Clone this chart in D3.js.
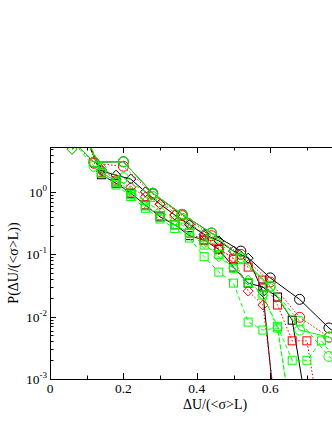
<!DOCTYPE html>
<html><head><meta charset="utf-8">
<script src="https://cdn.jsdelivr.net/npm/d3@7"></script>
<style>html,body{margin:0;padding:0;background:#fff;overflow:hidden}
text{font-family:"Liberation Serif","Times New Roman",Times,serif;}</style>
</head><body>
<svg id="c" width="332" height="430"></svg>
<script>
// ---- data ----
const xCircle  = [0.04,0.12,0.20,0.28,0.36,0.44,0.52,0.60,0.68,0.76,0.84];
const xDiamond = [0.06,0.10,0.14,0.18,0.22,0.26,0.30,0.34,0.38,0.42,0.46,0.50,0.54,0.58,0.62,0.66];
const xSquare  = [0.10,0.14,0.18,0.22,0.26,0.30,0.34,0.38,0.42,0.46,0.50,0.54,0.58,0.62,0.66,0.70,0.74,0.78];

const blackCircle  = [9,3.03,3.07,0.96,0.44,0.22,0.113,0.042,0.019,0.0066,0.003];
const redCircle    = [9,2.9,2.6,0.93,0.42,0.20,0.10,0.036,0.0098,0.0047,0.002];
const greenCircle  = [9,3.03,3.07,0.96,0.44,0.22,0.089,0.031,0.0061,0.0047,0.003];
const greenCircle2 = [9,2.6,1.7,0.85,0.38,0.18,0.085,0.030,0.0085,0.0023,0.001];

const blackDiamond = [4.9,7,2.2,1.87,1.62,1.01,0.64,0.43,0.30,0.21,0.165,0.113,0.087,0.025,1.1e-4];
const redDiamond   = [4.9,7,2.3,1.6,1.2,0.84,0.64,0.43,0.32,0.197,0.12,0.087,0.0258,0.0154,2e-4];
const greenDiamond = [4.9,7,2.5,1.5,1.05,0.7,0.5,0.35,0.25,0.15,0.092,0.06,0.0387,0.0222,0.0066,2e-4];

const blackSquare  = [7,1.9,1.39,0.96,0.62,0.40,0.30,0.20,0.17,0.12,0.0626,0.0346,0.03,0.0207,0.0088,3.2e-4];
const redSquare    = [7,2.07,1.5,0.96,0.62,0.42,0.30,0.22,0.17,0.126,0.085,0.0626,0.0387,0.0154,0.0041,0.0041,1.5e-4];
const greenSquare  = [7,2.0,1.3,0.85,0.55,0.37,0.26,0.183,0.092,0.052,0.0346,0.0082,0.0061,0.0066,2e-4];
const greenSquare2 = [7,2.1,1.45,0.92,0.6,0.42,0.3,0.22,0.141,0.1,0.06,0.035,0.0222,0.007,0.002,0.002,0.0041,0.002];

const xTickValues = [0,0.2,0.4,0.6];
const xTickLabels = ["0","0.2","0.4","0.6"];
const yTickValues = [1e-3,1e-2,1e-1,1];
const yTickExps   = ["-3","-2","-1","0"];

// ---- series table ----
const RED="#ff0000", GREEN="#00ff00", BLACK="#000000";
const series = [
  {x:xCircle,  y:blackCircle,  color:BLACK, dash:null,   sym:"circle"},
  {x:xDiamond, y:blackDiamond, color:BLACK, dash:null,   sym:"diamond"},
  {x:xSquare,  y:blackSquare,  color:BLACK, dash:null,   sym:"square"},
  {x:xCircle,  y:redCircle,    color:RED, dash:"1.5,2", sym:"circle"},
  {x:xDiamond, y:redDiamond,   color:RED, dash:"1.5,2", sym:"diamond"},
  {x:xSquare,  y:redSquare,    color:RED, dash:"1.5,2", sym:"square"},
  {x:xCircle,  y:greenCircle2, color:GREEN, dash:"4,3", sym:"circle"},
  {x:xDiamond, y:greenDiamond, color:GREEN, dash:"4,3", sym:"diamond"},
  {x:xSquare,  y:greenSquare,  color:GREEN, dash:"4,3", sym:"square"},
  {x:xSquare,  y:greenSquare2, color:GREEN, dash:"4,3", sym:"square"},
  {x:xCircle,  y:greenCircle,  color:GREEN, dash:null,   sym:"circle"}
];

// ---- layout ----
const L=50, T=147, B=379, R=380.3;
const svg = d3.select("#c");
const xS = d3.scaleLinear().domain([0,0.9]).range([L,R]);
const yS = d3.scaleLog().domain([1e-3,5.3]).range([B,T]);

svg.append("defs").append("clipPath").attr("id","clip")
  .append("rect").attr("x",L).attr("y",T).attr("width",R-L).attr("height",B-T);

const plot = svg.append("g").attr("clip-path","url(#clip)");
const line = d3.line().x(d=>xS(d[0])).y(d=>yS(d[1]));

series.forEach(s=>{
  const pts = s.y.map((v,i)=>[s.x[i],v]);
  plot.append("path").attr("d",line(pts)).attr("fill","none")
    .attr("stroke",s.color).attr("stroke-width",1)
    .attr("stroke-dasharray",s.dash);
  const g = plot.append("g").attr("fill","none").attr("stroke",s.color).attr("stroke-width",1);
  pts.forEach(p=>{
    const cx=xS(p[0]), cy=yS(p[1]);
    if(s.sym==="circle") g.append("circle").attr("cx",cx).attr("cy",cy).attr("r",5);
    else if(s.sym==="square") g.append("rect").attr("x",cx-4).attr("y",cy-4).attr("width",8).attr("height",8);
    else g.append("path").attr("d",`M${cx},${cy-5}L${cx+5},${cy}L${cx},${cy+5}L${cx-5},${cy}Z`);
  });
});

// ---- axes ----
const ax = svg.append("g").attr("stroke","#000").attr("stroke-width",1);
ax.append("line").attr("x1",L).attr("x2",R).attr("y1",B+0.5).attr("y2",B+0.5);
ax.append("line").attr("x1",L).attr("x2",R).attr("y1",T+0.5).attr("y2",T+0.5);
ax.append("line").attr("x1",L+0.5).attr("x2",L+0.5).attr("y1",T).attr("y2",B+1);

d3.range(0,0.91,0.1).forEach(v=>{
  const major = Math.abs(Math.round(v*10)%2)===0;
  const len = major?6:3.5, px=Math.round(xS(v))+0.5;
  ax.append("line").attr("x1",px).attr("x2",px).attr("y1",B).attr("y2",B-len);
  ax.append("line").attr("x1",px).attr("x2",px).attr("y1",T).attr("y2",T+len);
});
const yMinor=[];
for(let e=-3;e<=0;e++) for(let m=1;m<=9;m++){const v=m*Math.pow(10,e); if(v<=5.3) yMinor.push([v,m===1]);}
yMinor.forEach(([v,major])=>{
  const py=Math.round(yS(v))+0.5;
  ax.append("line").attr("x1",L).attr("x2",L+(major?6:3.5)).attr("y1",py).attr("y2",py);
});

svg.selectAll(".xl").data(xTickValues).enter().append("text")
  .attr("x",d=>xS(d)).attr("y",393).attr("text-anchor","middle")
  .attr("font-size",13.5).attr("fill","#000")
  .text((d,i)=>xTickLabels[i]);

yTickValues.forEach((v,i)=>{
  const t = svg.append("text").attr("x",47).attr("y",yS(v)+5).attr("text-anchor","end")
    .attr("font-size",13.5).attr("fill","#000");
  t.append("tspan").text("10");
  t.append("tspan").attr("dy",-6).attr("font-size",9).text(yTickExps[i]);
});

svg.append("text").attr("x",215).attr("y",409).attr("text-anchor","middle")
  .attr("font-size",14).attr("fill","#000")
  .text("ΔU/(<σ>L)");
svg.append("text").attr("transform","translate(18,263) rotate(-90)").attr("text-anchor","middle")
  .attr("font-size",14).attr("fill","#000")
  .text("P(ΔU/(<σ>L))");
</script>
</body></html>
